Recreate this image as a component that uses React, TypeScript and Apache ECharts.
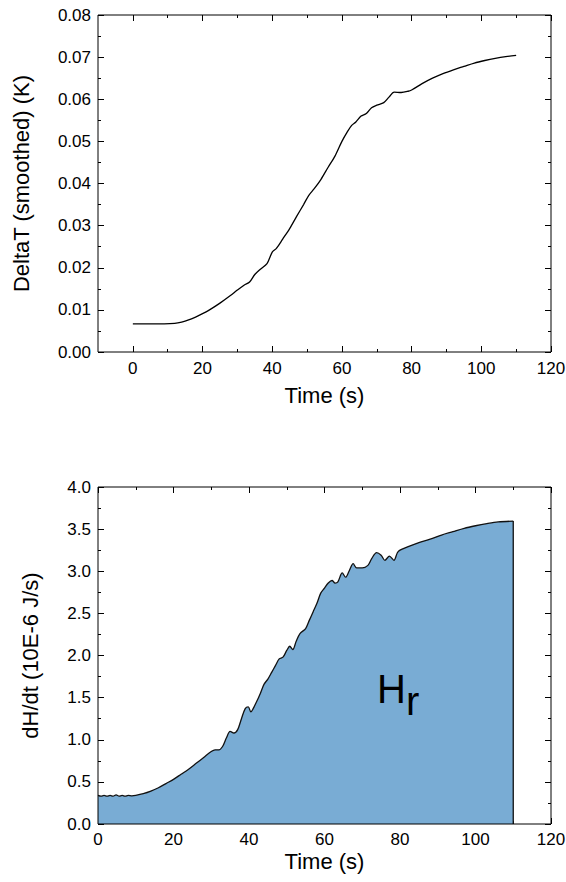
import React, { useEffect, useRef } from "react";
import * as echarts from "echarts";

// ---- Top panel: DeltaT (smoothed) vs time ----
const topTime = [0, 3, 6, 9, 12, 14, 16, 18, 20, 22, 25, 28, 30, 32, 33.5, 35, 36.5, 38.5, 40, 41.2, 43, 45, 47, 49, 50.5, 52, 54, 56, 58, 60, 61.5, 62.8, 64, 65.5, 67, 68.5, 70, 72, 73.5, 75, 77, 79, 80, 83, 86, 89, 92, 95, 98, 101, 104, 107, 110];
const topDeltaT = [0.0067, 0.0067, 0.0067, 0.0067, 0.0068, 0.0071, 0.0076, 0.0083, 0.0091, 0.0100, 0.0116, 0.0134, 0.0147, 0.0159, 0.0166, 0.0184, 0.0196, 0.0210, 0.0237, 0.0246, 0.0268, 0.0293, 0.0322, 0.0350, 0.0372, 0.0387, 0.0410, 0.0438, 0.0465, 0.0500, 0.0522, 0.0538, 0.0546, 0.0560, 0.0566, 0.0580, 0.0586, 0.0592, 0.0605, 0.0617, 0.0616, 0.0619, 0.0622, 0.0637, 0.0650, 0.0661, 0.0670, 0.0678, 0.0686, 0.0692, 0.0697, 0.0701, 0.0704];

// ---- Bottom panel: dH/dt vs time ----
const botTime = [0, 0.8, 1.6, 2.4, 3.2, 4.0, 4.8, 5.6, 6.4, 7.2, 8, 9, 10, 12, 14, 16, 18, 20, 22, 24, 26, 28, 30, 31, 32, 33, 34, 35, 36, 37, 38, 39, 39.8, 40.5, 41, 42, 43, 44, 45, 46, 47, 48, 49, 50, 50.8, 51.6, 52.5, 53.5, 55, 56, 57, 58, 59, 60, 61, 62, 62.8, 63.5, 64.7, 65.6, 66.5, 67.6, 68.5, 70, 71.5, 72.5, 73.8, 75, 76, 77.2, 78.4, 79.3, 80, 82, 85, 88, 91, 94, 97, 100, 103, 106, 110];
const botDHdt = [0.34, 0.33, 0.34, 0.33, 0.34, 0.33, 0.345, 0.33, 0.34, 0.33, 0.34, 0.335, 0.34, 0.36, 0.39, 0.43, 0.48, 0.53, 0.59, 0.65, 0.72, 0.79, 0.86, 0.88, 0.88, 0.92, 1.02, 1.10, 1.08, 1.12, 1.25, 1.37, 1.39, 1.33, 1.36, 1.45, 1.55, 1.66, 1.72, 1.80, 1.88, 1.96, 1.98, 2.06, 2.11, 2.07, 2.17, 2.26, 2.32, 2.42, 2.52, 2.62, 2.74, 2.80, 2.86, 2.89, 2.86, 2.87, 2.98, 2.93, 3.00, 3.09, 3.04, 3.04, 3.07, 3.15, 3.22, 3.19, 3.13, 3.18, 3.13, 3.22, 3.25, 3.29, 3.34, 3.38, 3.43, 3.47, 3.51, 3.54, 3.565, 3.585, 3.595];
const endTime = 110;

// ---- Tick values / labels ----
const topXMajor = [0, 20, 40, 60, 80, 100, 120];
const topXMinor = [10, 30, 50, 70, 90, 110];
const topYMajor = [0, 0.01, 0.02, 0.03, 0.04, 0.05, 0.06, 0.07, 0.08];
const topYMinor = [0.005, 0.015, 0.025, 0.035, 0.045, 0.055, 0.065, 0.075];
const botXMajor = [0, 20, 40, 60, 80, 100, 120];
const botXMinor = [10, 30, 50, 70, 90, 110];
const botYMajor = [0, 0.5, 1.0, 1.5, 2.0, 2.5, 3.0, 3.5, 4.0];
const botYMinor = [0.25, 0.75, 1.25, 1.75, 2.25, 2.75, 3.25, 3.75];

const topXTitle = "Time (s)";
const topYTitle = "DeltaT (smoothed) (K)";
const botXTitle = "Time (s)";
const botYTitle = "dH/dt (10E-6 J/s)";
const areaLabelMain = "H";
const areaLabelSub = "r";

const FONT = '"Liberation Sans", Arial, Helvetica, sans-serif';
const MAJOR_LEN = 6;
const MINOR_LEN = 3;

type AxisSpec = {
  gridIndex: number;
  min: number;
  max: number;
  majors: number[];
  minors: number[];
  fmt: (v: number) => string;
  name: string;
  nameGap: number;
  labelMargin: number;
  main: "bottom" | "left";
  mirror: "top" | "right";
};

function buildAxes(s: AxisSpec) {
  const base = {
    type: "value" as const,
    gridIndex: s.gridIndex,
    min: s.min,
    max: s.max,
    splitLine: { show: false },
    axisLine: { show: false, onZero: false },
  };
  const tick = (len: number, vals: number[]) => ({
    show: true,
    inside: true,
    length: len,
    customValues: vals,
    lineStyle: { color: "#000", width: 1 },
  });
  const labelAxis = {
    ...base,
    position: s.main,
    name: s.name,
    nameLocation: "middle",
    nameGap: s.nameGap,
    nameTextStyle: { fontFamily: FONT, fontSize: 22, color: "#000" },
    axisTick: tick(MAJOR_LEN, s.majors),
    axisLabel: {
      show: true,
      customValues: s.majors,
      formatter: (v: number) => s.fmt(v),
      fontFamily: FONT,
      fontSize: 17,
      color: "#000",
      margin: s.labelMargin,
    },
  };
  const minorMain = { ...base, position: s.main, axisTick: tick(MINOR_LEN, s.minors), axisLabel: { show: false } };
  const mirrorMajor = { ...base, position: s.mirror, axisTick: tick(MAJOR_LEN, s.majors), axisLabel: { show: false } };
  const mirrorMinor = { ...base, position: s.mirror, axisTick: tick(MINOR_LEN, s.minors), axisLabel: { show: false } };
  return [labelAxis, minorMain, mirrorMajor, mirrorMinor];
}

export default function App() {
  const ref = useRef<HTMLDivElement>(null);

  useEffect(() => {
    if (!ref.current) return;
    const chart = echarts.init(ref.current, null, { renderer: "svg" });

    const topPairs = topTime.map((t, i) => [t, topDeltaT[i]]);
    const botPairs = botTime.map((t, i) => [t, botDHdt[i]]);
    const lastVal = botDHdt[botDHdt.length - 1];

    const xAxes = [
      ...buildAxes({ gridIndex: 0, min: -10, max: 120, majors: topXMajor, minors: topXMinor, fmt: (v) => String(v), name: topXTitle, nameGap: 32, labelMargin: 8, main: "bottom", mirror: "top" }),
      ...buildAxes({ gridIndex: 1, min: 0, max: 120, majors: botXMajor, minors: botXMinor, fmt: (v) => String(v), name: botXTitle, nameGap: 26, labelMargin: 7, main: "bottom", mirror: "top" }),
    ];
    const yAxes = [
      ...buildAxes({ gridIndex: 0, min: 0, max: 0.08, majors: topYMajor, minors: topYMinor, fmt: (v) => v.toFixed(2), name: topYTitle, nameGap: 66, labelMargin: 7, main: "left", mirror: "right" }),
      ...buildAxes({ gridIndex: 1, min: 0, max: 4, majors: botYMajor, minors: botYMinor, fmt: (v) => v.toFixed(1), name: botYTitle, nameGap: 57, labelMargin: 7, main: "left", mirror: "right" }),
    ];

    chart.setOption({
      animation: false,
      backgroundColor: "#fff",
      grid: [
        { left: 98, top: 15, width: 453, height: 337, containLabel: false, outerBoundsMode: "none", show: true, borderColor: "#000", borderWidth: 1, backgroundColor: "transparent", z: 10 },
        { left: 98, top: 487, width: 453, height: 337, containLabel: false, outerBoundsMode: "none", show: true, borderColor: "#000", borderWidth: 1, backgroundColor: "transparent", z: 10 },
      ],
      xAxis: xAxes,
      yAxis: yAxes,
      series: [
        {
          type: "line",
          xAxisIndex: 0,
          yAxisIndex: 0,
          data: topPairs,
          smooth: 0.3,
          showSymbol: false,
          symbol: "none",
          lineStyle: { color: "#000", width: 1.3 },
        },
        {
          type: "line",
          xAxisIndex: 4,
          yAxisIndex: 4,
          data: botPairs,
          smooth: 0.3,
          showSymbol: false,
          symbol: "none",
          lineStyle: { color: "#111", width: 1.3 },
          areaStyle: { color: "#79acd4", opacity: 1 },
        },
        {
          type: "line",
          xAxisIndex: 4,
          yAxisIndex: 4,
          data: [
            [endTime, lastVal],
            [endTime, 0],
          ],
          showSymbol: false,
          symbol: "none",
          lineStyle: { color: "#111", width: 1.3 },
        },
      ],
      graphic: [
        {
          type: "text",
          x: 377,
          y: 689,
          z: 20,
          style: { text: areaLabelMain, fontFamily: FONT, fontSize: 40, fill: "#000", verticalAlign: "middle", align: "left" },
        },
        {
          type: "text",
          x: 406,
          y: 701,
          z: 20,
          style: { text: areaLabelSub, fontFamily: FONT, fontSize: 40, fill: "#000", verticalAlign: "middle", align: "left" },
        },
      ],
    });

    return () => {
      chart.dispose();
    };
  }, []);

  return (
    <div
      ref={ref}
      style={{ position: "fixed", left: 0, top: 0, width: 566, height: 882, background: "#fff" }}
    />
  );
}
